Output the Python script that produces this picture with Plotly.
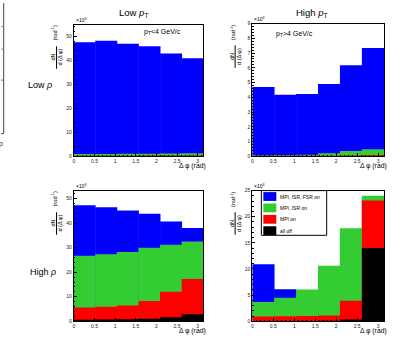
import numpy as np
import plotly.graph_objects as go

W, H = 399, 338
FONT = "Liberation Sans, Arial, Helvetica, sans-serif"

N_BINS = 6
x_tick_vals = [0, 0.5, 1, 1.5, 2, 2.5, 3]
x_tick_text = ["0", "0.5", "1", "1.5", "2", "2.5", "3"]

series_names = ["MPI, ISR, FSR on", "MPI, ISR on", "MPI on", "all off"]
series_colors = ["#0000ff", "#33cc33", "#ff0000", "#000000"]

col_titles = ["Low <i>p</i><sub>T</sub>", "High <i>p</i><sub>T</sub>"]
row_titles = ["Low <i>ρ</i>", "High <i>ρ</i>"]
cut_labels = ["p<sub>T</sub>&lt;4 GeV/c", "p<sub>T</sub>&gt;4 GeV/c"]
x_title = "Δ φ (rad)"

# dN/d(Δφ) in units of 10^3 rad^-1, one value per Δφ bin (0..π, 6 bins)
lowrho_lowpt_all = [47.6, 48.3, 47.0, 46.0, 42.9, 40.9]
lowrho_lowpt_isr = [0.9, 0.9, 1.0, 1.0, 1.1, 1.2]
lowrho_lowpt_mpi = [0.25, 0.25, 0.25, 0.3, 0.3, 0.3]
lowrho_lowpt_off = [0.1, 0.1, 0.1, 0.1, 0.1, 0.1]

lowrho_highpt_all = [4.7, 4.18, 4.22, 4.9, 6.18, 7.35]
lowrho_highpt_isr = [0.06, 0.08, 0.1, 0.2, 0.35, 0.47]
lowrho_highpt_mpi = [0.03, 0.03, 0.03, 0.04, 0.05, 0.06]
lowrho_highpt_off = [0.01, 0.01, 0.01, 0.01, 0.02, 0.02]

highrho_lowpt_all = [47.3, 46.5, 45.2, 43.9, 40.7, 38.0]
highrho_lowpt_isr = [26.7, 27.3, 28.3, 30.0, 31.2, 32.5]
highrho_lowpt_mpi = [5.6, 5.9, 6.4, 8.3, 12.0, 17.2]
highrho_lowpt_off = [0.6, 0.7, 0.8, 1.0, 1.6, 2.9]

highrho_highpt_all = [10.9, 6.1, 5.8, 10.2, 17.3, 23.6]
highrho_highpt_isr = [3.7, 4.5, 6.06, 10.6, 17.8, 24.0]
highrho_highpt_mpi = [0.9, 0.95, 1.0, 1.1, 3.9, 23.1]
highrho_highpt_off = [0.05, 0.05, 0.05, 0.1, 0.35, 14.0]

bin_edges = np.linspace(0, np.pi, N_BINS + 1)
bin_centers = 0.5 * (bin_edges[:-1] + bin_edges[1:])
bin_width = np.pi / N_BINS

panels = [
    dict(box=(73, 22, 203, 156), ymax=55, ymajor=10, yminor=2,
         series=[lowrho_lowpt_all, lowrho_lowpt_isr, lowrho_lowpt_mpi, lowrho_lowpt_off]),
    dict(box=(252, 21, 384, 156), ymax=9, ymajor=1, yminor=0.2,
         series=[lowrho_highpt_all, lowrho_highpt_isr, lowrho_highpt_mpi, lowrho_highpt_off]),
    dict(box=(73, 191, 203, 324), ymax=53.3, ymajor=10, yminor=2,
         series=[highrho_lowpt_all, highrho_lowpt_isr, highrho_lowpt_mpi, highrho_lowpt_off]),
    dict(box=(252, 191, 384, 324), ymax=25, ymajor=5, yminor=1,
         series=[highrho_highpt_all, highrho_highpt_isr, highrho_highpt_mpi, highrho_highpt_off]),
]


def px(x):
    return x / W


def py(y):
    return 1 - y / H


def ann(text, x, y, size, xanchor="center", yanchor="middle", angle=0, color="black"):
    return dict(text=text, x=px(x), y=py(y), xref="paper", yref="paper", showarrow=False,
                font=dict(size=size, family=FONT, color=color), xanchor=xanchor,
                yanchor=yanchor, textangle=angle)


def line(x0, y0, x1, y1, color="black", width=1):
    return dict(type="line", xref="paper", yref="paper", x0=px(x0), y0=py(y0),
                x1=px(x1), y1=py(y1), line=dict(color=color, width=width))


fig = go.Figure()
layout = dict(width=W, height=H, margin=dict(l=0, r=0, t=0, b=0),
              paper_bgcolor="white", plot_bgcolor="white", barmode="overlay",
              showlegend=False, font=dict(family=FONT), hovermode=False)
annotations = []
shapes = []

for i, p in enumerate(panels):
    k = "" if i == 0 else str(i + 1)
    x0, y0, x1, y1 = p["box"]
    for vals, name, color in zip(p["series"], series_names, series_colors):
        fig.add_trace(go.Bar(x=bin_centers, y=vals, width=bin_width * 1.02, name=name,
                             marker=dict(color=color, line=dict(width=0)),
                             xaxis="x" + k, yaxis="y" + k, hoverinfo="skip"))
    ytv = list(np.arange(0, p["ymax"] + 1e-9, p["ymajor"]))
    layout["xaxis" + k] = dict(
        domain=[px(x0), px(x1)], range=[0, np.pi], anchor="y" + k,
        tickvals=x_tick_vals, ticktext=x_tick_text, ticks="inside", ticklen=3,
        tickcolor="black", showline=True, linecolor="black", linewidth=1, mirror=True,
        showgrid=False, zeroline=False, tickfont=dict(size=5, color="#222"),
        minor=dict(ticks="inside", ticklen=1.5, dtick=0.1, tick0=0, tickcolor="black", showgrid=False))
    layout["yaxis" + k] = dict(
        domain=[py(y1), py(y0)], range=[0, p["ymax"]], anchor="x" + k,
        tickvals=ytv, ticktext=[("%g" % v) for v in ytv], ticks="inside", ticklen=3,
        tickcolor="black", showline=True, linecolor="black", linewidth=1, mirror=True,
        showgrid=False, zeroline=False, tickfont=dict(size=5, color="#222"),
        minor=dict(ticks="inside", ticklen=1.5, dtick=p["yminor"], tick0=0, tickcolor="black", showgrid=False))
    # ×10^3 exponent label
    annotations.append(ann("×10<sup>3</sup>", x0, y0 + 0.5, 5, xanchor="left", yanchor="bottom"))
    # x-axis title
    annotations.append(ann(x_title, x1 + 5, y1 + 9.5, 6.8, xanchor="right"))
    # y-axis title: fraction dN / d(Δφ) and (rad^-1)
    annotations.append(ann("dN<br>d (Δ φ)", x0 - 17.5, y0 + 33, 5.5, angle=-90))
    shapes.append(line(x0 - 17.3, y0 + 22, x0 - 17.3, y0 + 45, width=1))
    annotations.append(ann("(rad<sup>-1</sup>)", x0 - 19.5, y0 + 8.5, 5.5, angle=-90))

# column / row titles and cut labels
annotations.append(ann(col_titles[0], 133, 10, 9.5))
annotations.append(ann(col_titles[1], 312, 10, 9.5))
annotations.append(ann(row_titles[0], 39, 83, 9))
annotations.append(ann(row_titles[1], 42, 274, 9))
annotations.append(ann(cut_labels[0], 162, 29.5, 7))
annotations.append(ann(cut_labels[1], 294, 32, 7))

# legend (bottom-right panel)
lx0, ly0, lx1, ly1 = 261, 191, 326.5, 236.5
shapes.append(dict(type="rect", xref="paper", yref="paper", x0=px(lx0), y0=py(ly1),
                   x1=px(lx1), y1=py(ly0), line=dict(color="black", width=1),
                   fillcolor="white"))
for j, (name, color) in enumerate(zip(series_names, series_colors)):
    cy = 197 + j * 11.6
    shapes.append(dict(type="rect", xref="paper", yref="paper", x0=px(263), x1=px(276),
                       y0=py(cy + 4.5), y1=py(cy - 4.5), line=dict(width=0), fillcolor=color))
    annotations.append(ann(name, 278, cy, 5, xanchor="left"))

# cropped neighbour plot at the left edge
shapes.append(line(2.7, 0, 2.7, 133, color="#444", width=1))
shapes.append(line(0, 133, 2.7, 133, color="#444", width=1))
for yy, c in [(24, "#f07070"), (47, "#60b060"), (78.5, "#5060f0")]:
    shapes.append(line(0, yy, 2.5, yy, color=c, width=1))
annotations.append(ann("ρ", 0.5, 144, 7, color="#444"))

layout["annotations"] = annotations
layout["shapes"] = shapes
fig.update_layout(**layout)
fig.write_html("out.html", config={"displayModeBar": False, "staticPlot": True},
               post_script="document.body.style.margin='0px';")
